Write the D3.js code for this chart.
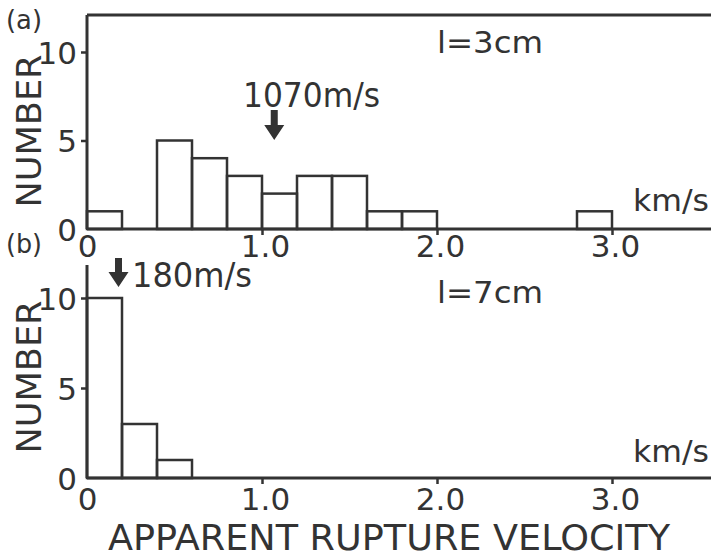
<!DOCTYPE html>
<html lang="en">
<head>
<meta charset="utf-8">
<title>Apparent rupture velocity</title>
<script src="https://d3js.org/d3.v7.min.js"></script>
<style>
  body { margin: 0; background: #fff; }
  svg text { font-family: "DejaVu Sans", sans-serif; fill: #333; }
  .axis text { font-size: 31px; fill: #333; }
  .axis line { stroke: #333; stroke-width: 2.5; }
</style>
</head>
<body>
<script>
// data
var binStart = [0, 0.2, 0.4, 0.6, 0.8, 1.0, 1.2, 1.4, 1.6, 1.8, 2.0, 2.2, 2.4, 2.6, 2.8];
var binWidth = 0.2;
var countsA = [1, 0, 5, 4, 3, 2, 3, 3, 1, 1, 0, 0, 0, 0, 1];   // l = 3cm
var countsB = [10, 3, 1, 0, 0, 0, 0, 0, 0, 0, 0, 0, 0, 0, 0];  // l = 7cm
var xTicks = [0, 1.0, 2.0, 3.0];
var xTickLabels = ["0", "1.0", "2.0", "3.0"];
var yTicks = [0, 5, 10];
var markerA = 1.07, markerB = 0.18;   // km/s

var w = 711, h = 558;
var ink = "#333";

var svg = d3.select("body").append("svg")
  .attr("width", w).attr("height", h);

var x = d3.scaleLinear().domain([0, 1]).range([87, 262]);

// panels
var panels = [
  { counts: countsA, y: d3.scaleLinear().domain([0, 10]).range([229, 52]),
    top: 15, box: true, tag: "(a)", tagY: 29, label: "l=3cm", labelY: 53,
    kmY: 211, xLabY: 257, marker: markerA, numY: 131, arrow: [110, 140] },
  { counts: countsB, y: d3.scaleLinear().domain([0, 10]).range([478, 298]),
    top: 265, box: false, tag: "(b)", tagY: 253, label: "l=7cm", labelY: 303,
    kmY: 462, xLabY: 510, marker: markerB, numY: 377, arrow: [258, 287] }
];

function fitText(g, str, x0, y0, len, size) {
  return g.append("text")
    .attr("x", x0).attr("y", y0)
    .attr("font-size", size)
    .attr("textLength", len)
    .attr("lengthAdjust", "spacingAndGlyphs")
    .text(str);
}

panels.forEach(function(p) {
  var g = svg.append("g");
  var y0 = p.y(0);

  // bars
  g.selectAll("rect")
    .data(binStart.map(function(b, i) { return { b: b, n: p.counts[i] }; })
      .filter(function(d) { return d.n > 0; }))
    .enter().append("rect")
    .attr("x", function(d) { return x(d.b); })
    .attr("width", function(d) { return x(d.b + binWidth) - x(d.b); })
    .attr("y", function(d) { return p.y(d.n); })
    .attr("height", function(d) { return y0 - p.y(d.n); })
    .attr("fill", "none").attr("stroke", ink).attr("stroke-width", 2.5);

  // frame lines
  g.append("line").attr("x1", x(0)).attr("x2", w).attr("y1", y0).attr("y2", y0)
    .attr("stroke", ink).attr("stroke-width", 3);
  g.append("line").attr("x1", x(0)).attr("x2", x(0)).attr("y1", p.top).attr("y2", y0)
    .attr("stroke", ink).attr("stroke-width", 3);
  if (p.box) {
    g.append("line").attr("x1", x(0)).attr("x2", w).attr("y1", p.top).attr("y2", p.top)
      .attr("stroke", ink).attr("stroke-width", 3);
  }

  // y axis
  var ya = g.append("g").attr("class", "axis")
    .attr("transform", "translate(" + x(0) + ",0)")
    .call(d3.axisLeft(p.y).tickValues(yTicks).tickSize(6).tickPadding(4).tickFormat(d3.format("d")));
  ya.select(".domain").remove();
  ya.selectAll(".tick").filter(function(d) { return d === 0; }).select("line").remove();
  ya.selectAll("text").attr("fill", ink).attr("dy", "0.36em");

  // x axis
  var xa = g.append("g").attr("class", "axis")
    .attr("transform", "translate(0," + y0 + ")")
    .call(d3.axisBottom(x).tickValues(xTicks).tickSize(6).tickPadding(0)
      .tickFormat(function(d, i) { return xTickLabels[i]; }));
  xa.select(".domain").remove();
  xa.selectAll(".tick").filter(function(d) { return d === 0; }).select("line").remove();
  xa.selectAll("text").attr("fill", ink).attr("y", p.xLabY - y0).attr("dy", 0)
    .attr("font-size", 31).attr("text-anchor", "middle")
    .attr("dx", function(d) { return d === 0 ? 0 : 3; });

  // labels
  fitText(g, p.tag, 6, p.tagY, 36, 26);
  fitText(g, p.label, 437, p.labelY, 106, 31);
  fitText(g, "km/s", 633, p.kmY, 76, 31);

  g.append("text")
    .attr("transform", "translate(41," + p.numY + ") rotate(-90)")
    .attr("text-anchor", "middle")
    .attr("font-size", 34)
    .attr("textLength", 153)
    .attr("lengthAdjust", "spacingAndGlyphs")
    .text("NUMBER");

  // arrow marker
  var ax = x(p.marker);
  var aTop = p.arrow[0], aBot = p.arrow[1];
  var headH = 15;
  g.append("path")
    .attr("d", "M" + (ax - 3.5) + "," + aTop + "H" + (ax + 3.5) + "V" + (aBot - headH) +
      "H" + (ax + 10) + "L" + ax + "," + aBot + "L" + (ax - 10) + "," + (aBot - headH) +
      "H" + (ax - 3.5) + "Z")
    .attr("fill", ink);
});

// marker texts
fitText(svg, "1070m/s", 243, 107, 137, 34);
fitText(svg, "180m/s", 132, 287, 120, 33);

// x title
fitText(svg, "APPARENT RUPTURE VELOCITY", 108, 550, 562, 36);
</script>
</body>
</html>
